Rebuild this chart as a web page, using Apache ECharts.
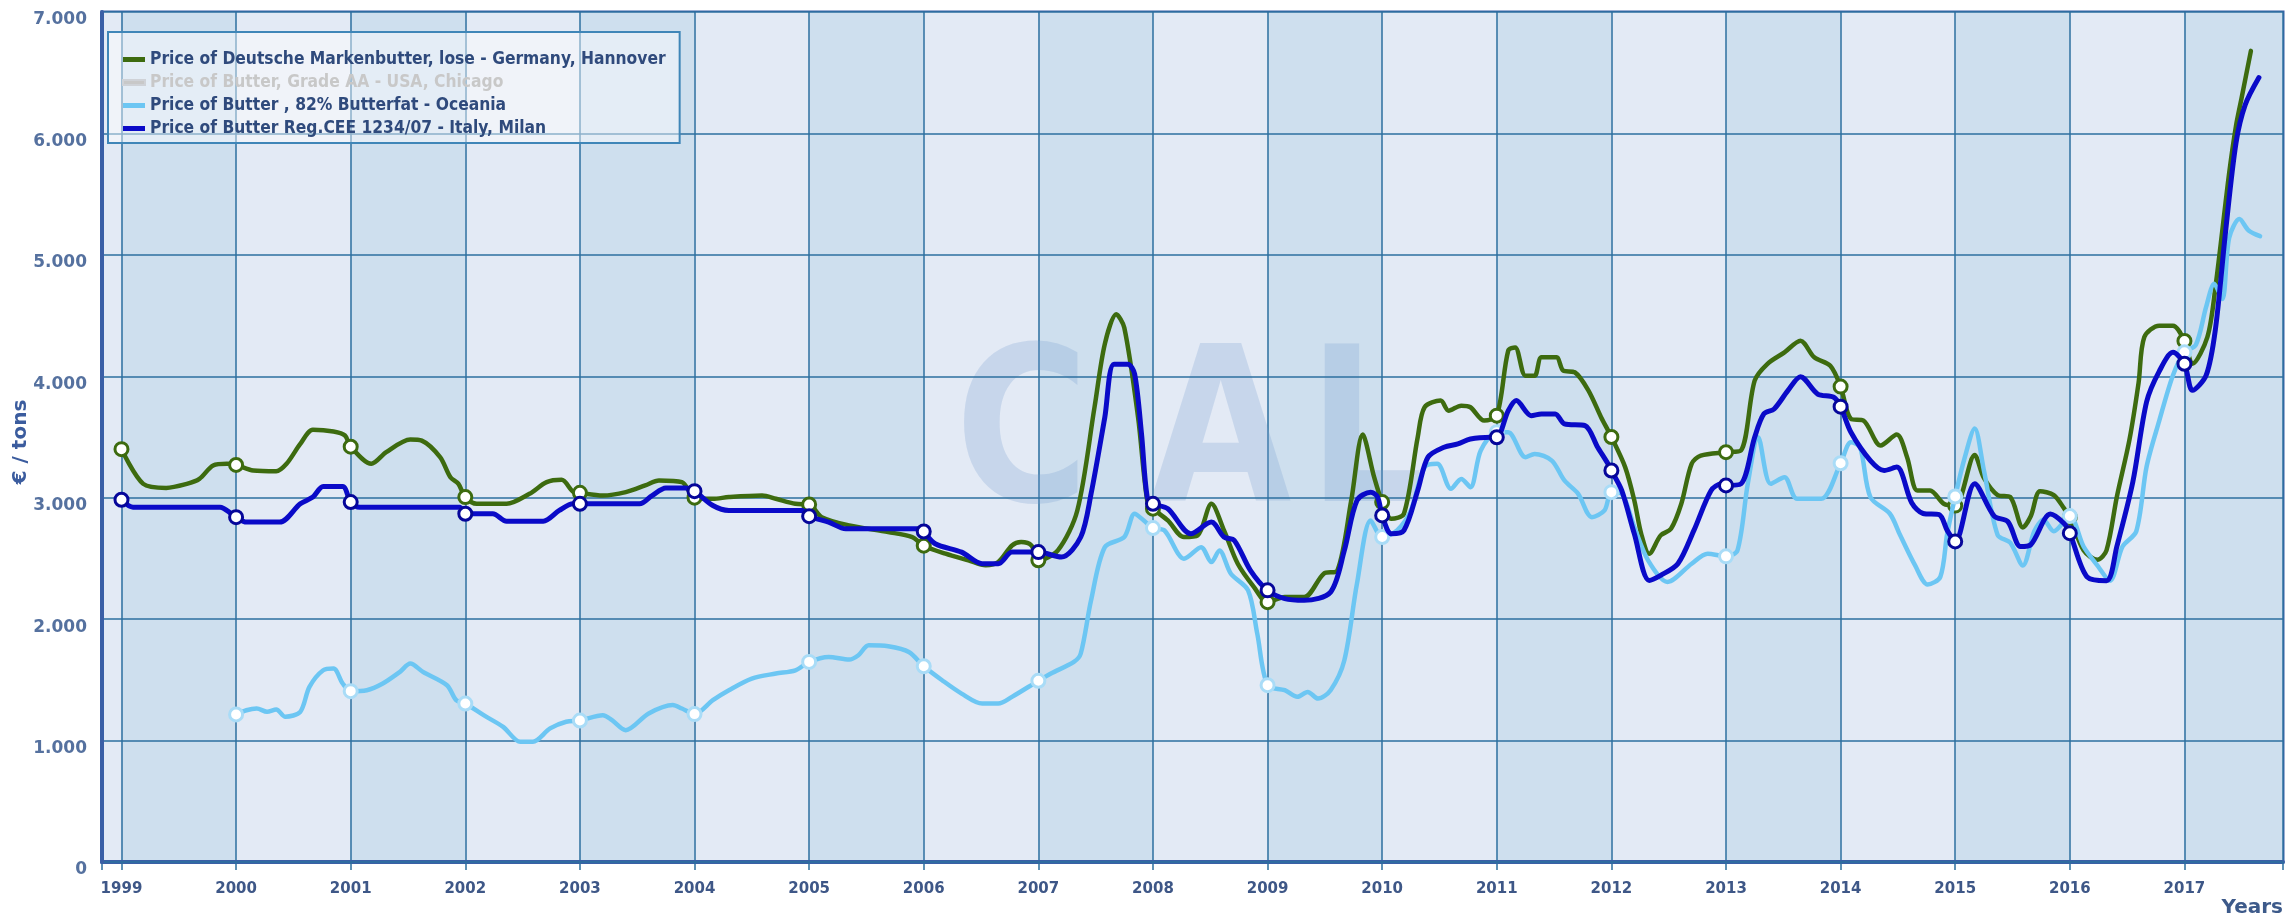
<!DOCTYPE html>
<html>
<head>
<meta charset="utf-8">
<script src="https://cdn.jsdelivr.net/npm/echarts@6/dist/echarts.min.js"></script>
<style>
  html, body { margin: 0; padding: 0; background: #ffffff; }
  #chart { width: 2287px; height: 920px; }
</style>
</head>
<body>
<div id="chart"></div>
<script>
// ---- Data (decimal year, €/ton) ----
const X_MIN = 1998.83;
const X_MAX = 2017.86;
const yearTicks = [1999, 2000, 2001, 2002, 2003, 2004, 2005, 2006, 2007, 2008,
                   2009, 2010, 2011, 2012, 2013, 2014, 2015, 2016, 2017];

const seriesNames = [
  'Price of Deutsche Markenbutter, lose - Germany, Hannover',
  'Price of Butter, Grade AA - USA, Chicago',
  'Price of Butter , 82% Butterfat - Oceania',
  'Price of Butter Reg.CEE 1234/07 - Italy, Milan'
];

const germanyData = [
  [1999, 3400], [1999.19, 3114], [1999.39, 3081], [1999.57, 3114], [1999.68, 3155], [1999.80, 3265], [1999.92, 3279],
  [2000, 3270], [2000.15, 3224], [2000.35, 3218], [2000.44, 3279], [2000.56, 3443], [2000.67, 3560], [2000.85, 3545], [2000.95, 3512],
  [2001, 3420], [2001.18, 3279], [2001.31, 3375], [2001.52, 3480], [2001.62, 3470], [2001.78, 3334], [2001.87, 3169], [2001.94, 3114],
  [2002, 3005], [2002.10, 2950], [2002.36, 2950], [2002.56, 3032], [2002.71, 3128], [2002.84, 3147], [2002.94, 3050],
  [2003, 3040], [2003.20, 3018], [2003.40, 3046], [2003.57, 3101], [2003.69, 3142], [2003.89, 3128],
  [2004, 3000], [2004.16, 2991], [2004.30, 3005], [2004.59, 3018], [2004.71, 2991], [2004.88, 2950],
  [2005, 2944], [2005.11, 2840], [2005.35, 2772], [2005.69, 2717], [2005.90, 2676],
  [2006, 2605], [2006.19, 2539], [2006.39, 2484], [2006.54, 2443], [2006.65, 2470], [2006.77, 2607], [2006.85, 2635], [2006.94, 2607],
  [2007, 2485], [2007.17, 2566], [2007.34, 2895], [2007.49, 3745], [2007.58, 4266], [2007.68, 4510], [2007.75, 4400], [2007.87, 3663], [2007.95, 2977],
  [2008, 2910], [2008.13, 2813], [2008.27, 2676], [2008.39, 2690], [2008.51, 2950], [2008.62, 2731], [2008.74, 2456], [2008.88, 2265],
  [2009, 2140], [2009.15, 2182], [2009.32, 2182], [2009.49, 2374], [2009.61, 2402], [2009.73, 2977], [2009.83, 3520], [2009.93, 3169],
  [2010, 2964], [2010.08, 2827], [2010.19, 2868], [2010.31, 3498], [2010.37, 3745], [2010.51, 3800], [2010.58, 3717], [2010.69, 3758], [2010.77, 3745], [2010.89, 3635],
  [2011, 3676], [2011.10, 4211], [2011.16, 4238], [2011.25, 4005], [2011.33, 4005], [2011.39, 4156], [2011.52, 4156], [2011.58, 4046], [2011.68, 4033], [2011.80, 3882], [2011.91, 3663],
  [2012, 3500], [2012.12, 3252], [2012.20, 2977], [2012.26, 2703], [2012.33, 2539], [2012.43, 2690], [2012.52, 2744], [2012.61, 2950], [2012.70, 3279], [2012.78, 3347],
  [2013, 3375], [2013.13, 3389], [2013.25, 3964], [2013.36, 4101], [2013.51, 4197], [2013.65, 4293], [2013.77, 4156], [2013.91, 4087],
  [2014, 3915], [2014.09, 3649], [2014.20, 3635], [2014.35, 3430], [2014.49, 3520], [2014.58, 3334], [2014.67, 3060], [2014.78, 3060], [2014.90, 2950],
  [2015, 2935], [2015.17, 3351], [2015.25, 3163], [2015.37, 3022], [2015.48, 3006], [2015.59, 2755], [2015.66, 2849], [2015.74, 3053], [2015.86, 3022], [2015.95, 2912],
  [2016, 2840], [2016.12, 2567], [2016.24, 2489], [2016.32, 2567], [2016.41, 3006], [2016.52, 3476], [2016.60, 3947], [2016.65, 4323], [2016.78, 4417], [2016.90, 4417],
  [2017, 4291], [2017.07, 4103], [2017.20, 4323], [2017.27, 4730], [2017.39, 5671], [2017.45, 6063], [2017.50, 6298], [2017.58, 6680]
];

const usaData = [];

const oceaniaData = [
  [2000, 1215], [2000.09, 1250], [2000.18, 1264], [2000.27, 1237], [2000.35, 1256], [2000.43, 1196], [2000.56, 1237], [2000.64, 1442], [2000.76, 1579], [2000.85, 1593], [2000.93, 1470],
  [2001, 1407], [2001.14, 1415], [2001.28, 1470], [2001.43, 1566], [2001.52, 1634], [2001.63, 1566], [2001.84, 1456], [2001.92, 1333],
  [2002, 1305], [2002.16, 1209], [2002.33, 1113], [2002.48, 990], [2002.59, 990], [2002.74, 1100], [2002.88, 1155],
  [2003, 1165], [2003.20, 1209], [2003.28, 1168], [2003.40, 1086], [2003.60, 1223], [2003.81, 1292], [2003.89, 1264],
  [2004, 1218], [2004.16, 1333], [2004.30, 1415], [2004.50, 1511], [2004.71, 1552], [2004.88, 1579],
  [2005, 1648], [2005.17, 1689], [2005.35, 1667], [2005.43, 1703], [2005.52, 1785], [2005.69, 1777], [2005.87, 1730],
  [2006, 1612], [2006.16, 1497], [2006.33, 1387], [2006.51, 1305], [2006.65, 1305], [2006.77, 1360],
  [2007, 1492], [2007.11, 1552], [2007.31, 1648], [2007.37, 1717], [2007.46, 2155], [2007.58, 2593], [2007.75, 2676], [2007.84, 2868], [2007.92, 2813],
  [2008, 2750], [2008.10, 2731], [2008.22, 2539], [2008.27, 2498], [2008.42, 2593], [2008.51, 2470], [2008.58, 2566], [2008.68, 2374], [2008.83, 2237], [2008.91, 1881],
  [2009, 1456], [2009.15, 1415], [2009.26, 1360], [2009.35, 1401], [2009.44, 1346], [2009.55, 1415], [2009.67, 1662], [2009.78, 2292], [2009.90, 2813],
  [2010, 2676], [2010.13, 2731], [2010.25, 2895], [2010.37, 3252], [2010.48, 3279], [2010.60, 3073], [2010.69, 3155], [2010.77, 3087], [2010.86, 3389],
  [2011, 3540], [2011.10, 3539], [2011.25, 3334], [2011.33, 3361], [2011.48, 3306], [2011.59, 3142], [2011.71, 3032], [2011.83, 2840], [2011.94, 2895],
  [2012, 3046], [2012.09, 3032], [2012.20, 2758], [2012.32, 2484], [2012.49, 2306], [2012.70, 2456], [2012.84, 2539],
  [2013, 2517], [2013.10, 2566], [2013.19, 3114], [2013.28, 3498], [2013.39, 3114], [2013.51, 3169], [2013.62, 2991], [2013.83, 2991],
  [2014, 3284], [2014.09, 3457], [2014.17, 3416], [2014.26, 3005], [2014.43, 2868], [2014.52, 2690], [2014.65, 2442], [2014.76, 2285], [2014.87, 2348], [2014.93, 2703],
  [2015, 3010], [2015.08, 3320], [2015.17, 3570], [2015.25, 3226], [2015.37, 2693], [2015.48, 2630], [2015.59, 2442], [2015.69, 2724], [2015.77, 2818], [2015.86, 2724],
  [2016, 2849], [2016.12, 2598], [2016.24, 2442], [2016.35, 2316], [2016.46, 2598], [2016.58, 2724], [2016.67, 3257], [2016.78, 3633], [2016.90, 4009],
  [2017, 4197], [2017.10, 4260], [2017.19, 4574], [2017.26, 4762], [2017.33, 4636], [2017.39, 5138], [2017.48, 5295], [2017.56, 5201], [2017.66, 5154]
];

const italyData = [
  [1999, 2983], [1999.10, 2922], [1999.86, 2922], [1999.96, 2868],
  [2000, 2840], [2000.09, 2799], [2000.38, 2799], [2000.56, 2950], [2000.67, 3005], [2000.76, 3092], [2000.93, 3092],
  [2001, 2964], [2001.08, 2922], [2001.95, 2922],
  [2002, 2868], [2002.24, 2868], [2002.36, 2807], [2002.68, 2807], [2002.82, 2895], [2002.94, 2950],
  [2003, 2950], [2003.52, 2950], [2003.63, 3018], [2003.75, 3081], [2003.92, 3081],
  [2004, 3054], [2004.16, 2936], [2004.30, 2895], [2004.94, 2895],
  [2005, 2848], [2005.17, 2799], [2005.32, 2744], [2005.98, 2744],
  [2006, 2722], [2006.10, 2621], [2006.33, 2552], [2006.51, 2456], [2006.65, 2456], [2006.77, 2552], [2006.91, 2552],
  [2007, 2552], [2007.20, 2511], [2007.37, 2676], [2007.46, 3032], [2007.58, 3663], [2007.66, 4100], [2007.78, 4100], [2007.84, 4019], [2007.90, 3526], [2007.95, 3005],
  [2008, 2950], [2008.13, 2909], [2008.33, 2703], [2008.51, 2799], [2008.62, 2676], [2008.71, 2648], [2008.85, 2402],
  [2009, 2237], [2009.15, 2169], [2009.32, 2155], [2009.55, 2223], [2009.67, 2566], [2009.78, 2977], [2009.90, 3046], [2009.96, 3005],
  [2010, 2854], [2010.08, 2703], [2010.19, 2731], [2010.31, 3060], [2010.40, 3334], [2010.54, 3416], [2010.66, 3443], [2010.77, 3484], [2010.95, 3498],
  [2011, 3498], [2011.10, 3717], [2011.17, 3800], [2011.30, 3676], [2011.39, 3690], [2011.51, 3690], [2011.59, 3608], [2011.77, 3594], [2011.88, 3416], [2011.97, 3279],
  [2012, 3224], [2012.09, 3060], [2012.20, 2703], [2012.33, 2319], [2012.43, 2361], [2012.58, 2456], [2012.72, 2731], [2012.87, 3060], [2012.96, 3114],
  [2013, 3101], [2013.13, 3114], [2013.25, 3498], [2013.33, 3690], [2013.42, 3731], [2013.54, 3882], [2013.65, 3997], [2013.80, 3854], [2013.94, 3827],
  [2014, 3750], [2014.09, 3539], [2014.26, 3306], [2014.38, 3224], [2014.49, 3252], [2014.62, 2959], [2014.72, 2870], [2014.86, 2860], [2014.93, 2731],
  [2015, 2640], [2015.17, 3116], [2015.34, 2849], [2015.46, 2802], [2015.57, 2598], [2015.66, 2614], [2015.83, 2865], [2015.95, 2787],
  [2016, 2708], [2016.15, 2348], [2016.32, 2316], [2016.41, 2598], [2016.55, 3131], [2016.67, 3790], [2016.78, 4041], [2016.90, 4197],
  [2017, 4103], [2017.07, 3884], [2017.19, 4009], [2017.27, 4385], [2017.36, 5201], [2017.45, 5922], [2017.53, 6235], [2017.65, 6460]
];

// ---- Styling ----
const colors = ['#3d6b0f', '#cccccc', '#6cc6f3', '#0a0ac8'];
const markerBorders = ['#3d6b0f', '#cccccc', '#a9dcf7', '#06069a'];
const GRID_COLOR = '#2d6f9f';
const FRAME_COLOR = '#3a5fa6';
const WATERMARK = 'rgba(120,160,210,0.26)';

function yearMarker(value) {
  return Number.isInteger(value[0]) ? 'circle' : 'none';
}

function makeSeries(idx, data, width, z) {
  return {
    name: seriesNames[idx],
    type: 'line',
    data: data,
    smooth: 0.3,
    symbol: yearMarker,
    symbolSize: 13,
    showSymbol: true,
    z: z,
    lineStyle: { color: colors[idx], width: width, cap: 'round', join: 'round' },
    itemStyle: { color: '#ffffff', borderColor: markerBorders[idx], borderWidth: 3 },
    emphasis: { disabled: true }
  };
}

function watermarkLetter(ch, x) {
  return {
    type: 'text', x: x, y: 445, z: 1, scaleX: 0.85,
    style: {
      text: ch, fill: WATERMARK, font: 'bold 215px "DejaVu Sans"',
      align: 'left', verticalAlign: 'middle', textAlign: 'left', textVerticalAlign: 'middle'
    }
  };
}

const chart = echarts.init(document.getElementById('chart'), null, { renderer: 'canvas' });

const allTickValues = [X_MIN].concat(yearTicks, [X_MAX]);

chart.setOption({
  animation: false,
  backgroundColor: '#ffffff',
  grid: {
    left: 102, right: 4, top: 12, bottom: 58,
    show: true, backgroundColor: '#e3eaf5', borderColor: FRAME_COLOR, borderWidth: 3
  },
  legend: {
    orient: 'vertical',
    left: 108, top: 32,
    icon: 'rect',
    itemWidth: 22, itemHeight: 5, itemGap: 6,
    padding: [19, 14, 6, 14],
    backgroundColor: 'rgba(255,255,255,0.45)',
    borderColor: '#3f86b8', borderWidth: 2,
    inactiveColor: '#c8c8c8',
    textStyle: {
      color: '#2f4a7c', fontFamily: 'DejaVu Sans Condensed', fontWeight: 'bold',
      fontSize: 17.3, lineHeight: 17
    },
    data: seriesNames.map((n, i) => ({ name: n, itemStyle: { color: colors[i], borderWidth: 0 } })),
    selected: { [seriesNames[1]]: false }
  },
  xAxis: {
    type: 'value',
    z: 0,
    min: X_MIN, max: X_MAX,
    axisLine: { show: true, onZero: false, lineStyle: { color: FRAME_COLOR, width: 4 } },
    axisTick: { show: true, length: 8, customValues: allTickValues, lineStyle: { color: GRID_COLOR, width: 1.5 } },
    axisLabel: {
      customValues: yearTicks,
      formatter: v => String(v),
      margin: 20,
      color: '#3e5787', fontFamily: 'DejaVu Sans', fontWeight: 'bold', fontSize: 15
    },
    splitLine: { show: true, lineStyle: { color: GRID_COLOR, width: 1.5 } },
    splitArea: { show: true, areaStyle: { color: ['#e3eaf5', '#cedfee'] } }
  },
  yAxis: {
    type: 'value',
    z: 2,
    min: 0, max: 7000, interval: 1000,
    axisLine: { show: true, lineStyle: { color: FRAME_COLOR, width: 4 } },
    axisTick: { show: false },
    axisLabel: {
      formatter: v => v === 0 ? '0' : (v / 1000) + '.000',
      margin: 15,
      verticalAlign: 'top',
      lineHeight: 16,
      color: '#55719f', fontFamily: 'DejaVu Sans', fontWeight: 'bold', fontSize: 17
    },
    splitLine: { show: true, lineStyle: { color: GRID_COLOR, width: 1.5 } }
  },
  graphic: [
    watermarkLetter('C', 955),
    watermarkLetter('A', 1150),
    watermarkLetter('L', 1308),
    { type: 'text', x: 21, y: 442, rotation: Math.PI / 2,
      style: { text: '€ / tons', fill: '#3b5c9e', font: 'bold 20px "DejaVu Sans"', align: 'center', verticalAlign: 'middle', textAlign: 'center', textVerticalAlign: 'middle' } },
    { type: 'text', x: 2283, y: 908,
      style: { text: 'Years', fill: '#3d5a8a', font: 'bold 20px "DejaVu Sans"', align: 'right', verticalAlign: 'middle', textAlign: 'right', textVerticalAlign: 'middle' } }
  ],
  series: [
    makeSeries(0, germanyData, 4.5, 3),
    makeSeries(1, usaData, 4.5, 3),
    makeSeries(2, oceaniaData, 4.5, 4),
    makeSeries(3, italyData, 5, 5)
  ]
});
</script>
</body>
</html>
